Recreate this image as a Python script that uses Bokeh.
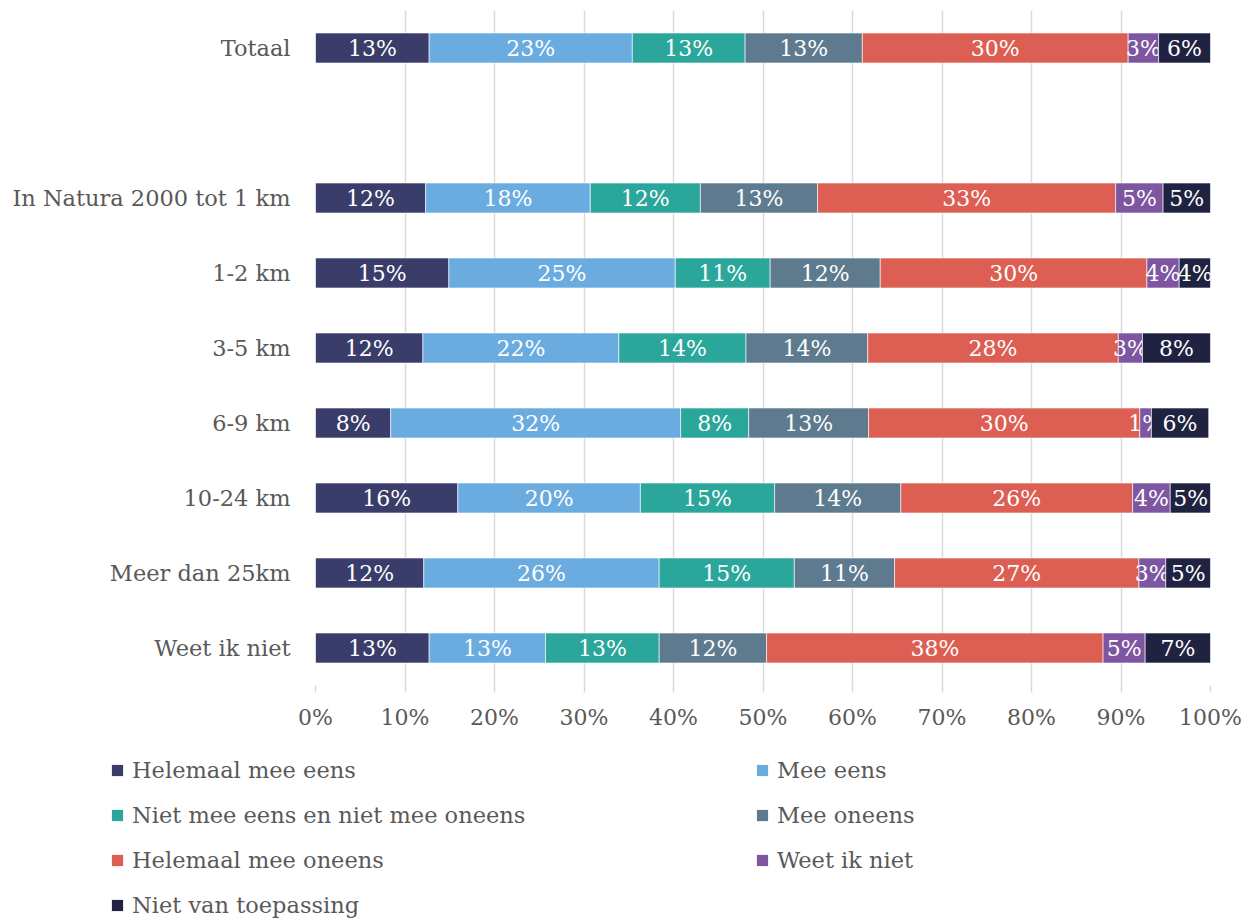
from bokeh.plotting import figure
from bokeh.models import ColumnDataSource, FixedTicker, Legend, LegendItem
from bokeh.layouts import column
from bokeh.core.properties import value
from bokeh.embed import file_html
from bokeh.resources import INLINE

categories = ["Totaal", "In Natura 2000 tot 1 km", "1-2 km", "3-5 km", "6-9 km",
              "10-24 km", "Meer dan 25km", "Weet ik niet"]
y_pos = [8, 6, 5, 4, 3, 2, 1, 0]

series_names = ["Helemaal mee eens", "Mee eens", "Niet mee eens en niet mee oneens",
                "Mee oneens", "Helemaal mee oneens", "Weet ik niet", "Niet van toepassing"]
helemaal_eens = [12.7, 12.3, 14.9, 12.0, 8.4, 15.9, 12.1, 12.7]
mee_eens = [22.7, 18.4, 25.3, 21.9, 32.4, 20.4, 26.3, 13.0]
neutraal = [12.6, 12.3, 10.6, 14.2, 7.6, 15.0, 15.1, 12.7]
mee_oneens = [13.1, 13.1, 12.3, 13.6, 13.4, 14.1, 11.2, 12.0]
helemaal_oneens = [29.7, 33.3, 29.8, 28.0, 30.3, 25.9, 27.3, 37.6]
weet_niet = [3.4, 5.3, 3.6, 2.7, 1.3, 4.2, 3.0, 4.7]
niet_van_toepassing = [5.8, 5.3, 3.6, 7.6, 6.4, 4.6, 5.0, 7.3]
colors = ["#3A3C6A", "#6AACE0", "#2BA69A", "#5E7A8E", "#DD5E52", "#7E55A0", "#1F2240"]

x_ticks = list(range(0, 101, 10))

series = [helemaal_eens, mee_eens, neutraal, mee_oneens, helemaal_oneens,
          weet_niet, niet_van_toepassing]

GREY = "#595959"
FONT = "DejaVu Serif"
W = 1245

p = figure(width=W, height=745, x_range=(0, 100), y_range=(-0.5, 8.5),
           output_backend="svg", toolbar_location=None,
           min_border_left=315, min_border_right=W - 1210, min_border_top=10,
           min_border_bottom=60)
p.frame_align = False
p.outline_line_color = None
p.background_fill_color = "white"

# legend figure (swatches only; the bar data lies outside its visible range)
lg = figure(width=W, height=173, x_range=(0, 100), y_range=(100, 101),
            output_backend="svg", toolbar_location=None,
            x_axis_location=None, y_axis_location=None,
            min_border_left=0, min_border_right=0, min_border_top=0,
            min_border_bottom=0)
lg.frame_align = False
lg.grid.visible = False
lg.outline_line_color = None
lg.border_fill_color = "white"
lg.background_fill_color = "white"

items = []
left = [0.0] * len(categories)
for name, vals, col in zip(series_names, series, colors):
    right = [l + v for l, v in zip(left, vals)]
    src = ColumnDataSource(dict(
        y=y_pos, left=left, right=right,
        mid=[(l + r) / 2 for l, r in zip(left, right)],
        lab=[f"{round(v):.0f}%" for v in vals]))
    p.hbar(y="y", left="left", right="right", height=0.4, source=src,
           fill_color=col, line_color="white", line_width=0.6)
    p.text(x="mid", y="y", text="lab", source=src, text_color="white",
           text_align="center", text_baseline="middle",
           text_font=value(FONT), text_font_size="22px")
    r = lg.hbar(y="y", left="left", right="right", height=0.4, source=src,
                fill_color=col, line_color=None)
    items.append(LegendItem(label=name, renderers=[r], index=0))
    left = right

# axes
p.xaxis.ticker = FixedTicker(ticks=x_ticks)
p.xaxis.major_label_overrides = {t: f"{t}%" for t in x_ticks}
p.xaxis.axis_line_color = None
p.xaxis.major_tick_line_color = "#D9D9D9"
p.xaxis.major_tick_line_width = 1.5
p.xaxis.major_tick_out = 7
p.xaxis.major_tick_in = 0
p.xaxis.minor_tick_line_color = None
p.xaxis.major_label_standoff = 12
p.xaxis.major_label_text_font = FONT
p.xaxis.major_label_text_font_size = "22px"
p.xaxis.major_label_text_color = GREY

p.yaxis.ticker = FixedTicker(ticks=y_pos)
p.yaxis.major_label_overrides = {y: c for y, c in zip(y_pos, categories)}
p.yaxis.axis_line_color = None
p.yaxis.major_tick_line_color = None
p.yaxis.minor_tick_line_color = None
p.yaxis.major_label_standoff = 19
p.yaxis.major_label_text_font = FONT
p.yaxis.major_label_text_font_size = "22.5px"
p.yaxis.major_label_text_color = GREY

p.xgrid.ticker = FixedTicker(ticks=x_ticks)
p.xgrid.grid_line_color = "#D9D9D9"
p.xgrid.grid_line_width = 1.5
p.ygrid.grid_line_color = None

legend = Legend(items=items, location=(110, 0), orientation="horizontal",
                ncols=2, glyph_width=14, glyph_height=14, label_standoff=8,
                label_width=604, label_height=24, spacing=19, padding=0, margin=0,
                label_text_font=FONT, label_text_font_size="22.5px",
                label_text_color=GREY, background_fill_alpha=0, border_line_alpha=0)
lg.add_layout(legend, "center")

layout = column(p, lg, spacing=0)
open("out.html", "w").write(file_html(layout, INLINE))
